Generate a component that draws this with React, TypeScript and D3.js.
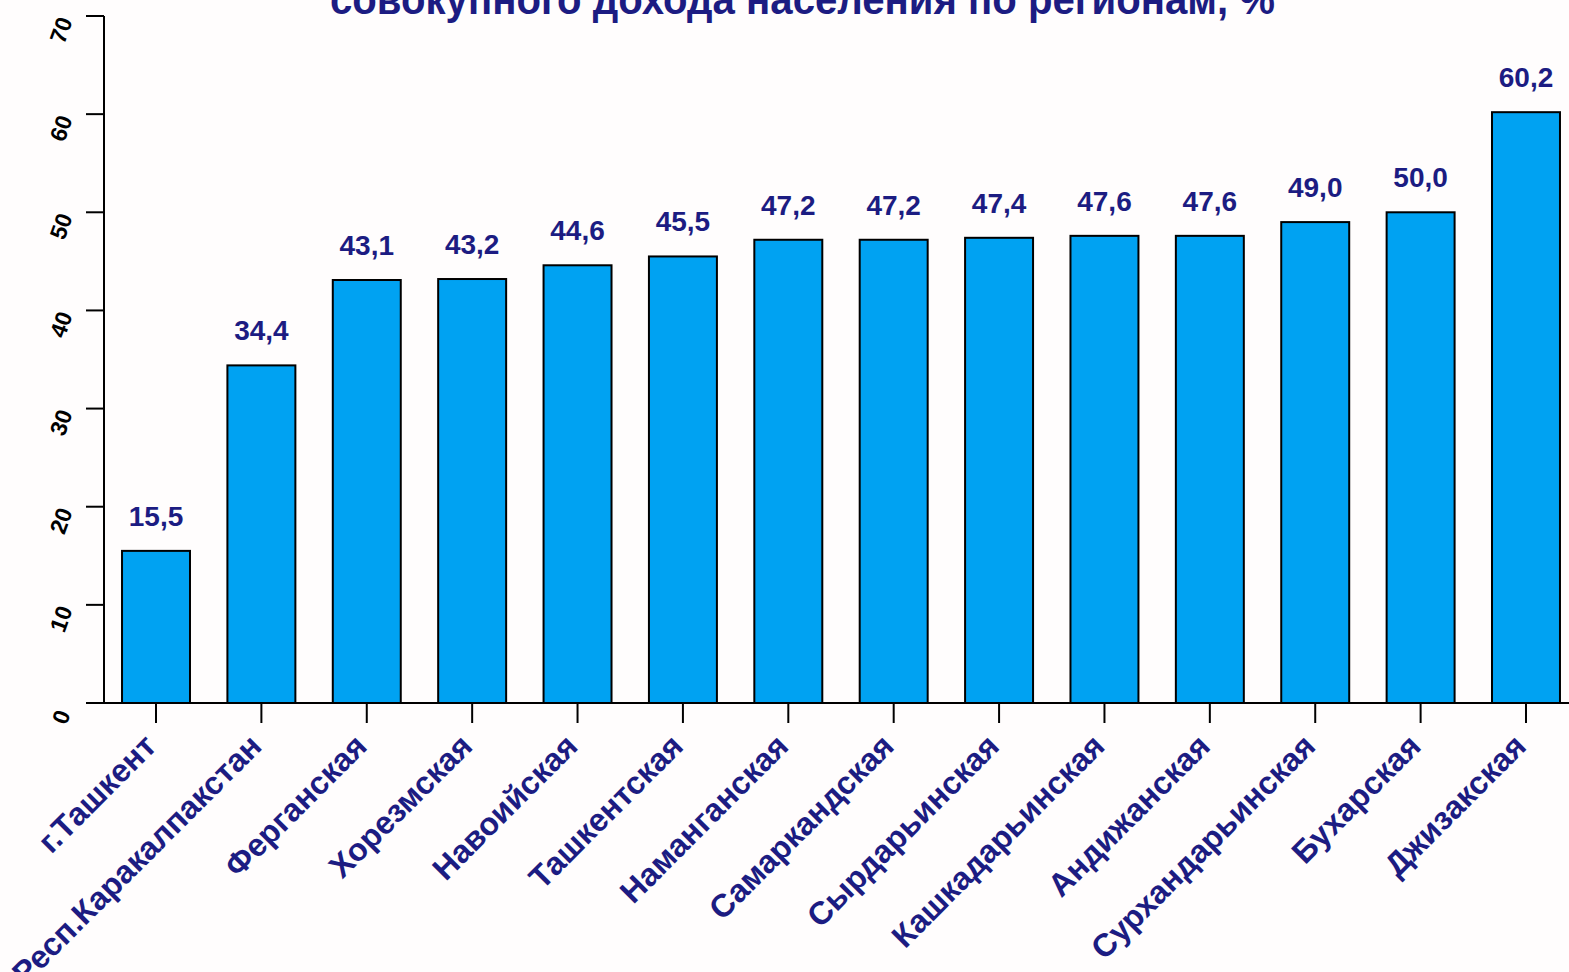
import * as d3 from "d3";

const regions = [
  "г.Ташкент",
  "Респ.Каракалпакстан",
  "Ферганская",
  "Хорезмская",
  "Навоийская",
  "Ташкентская",
  "Наманганская",
  "Самаркандская",
  "Сырдарьинская",
  "Кашкадарьинская",
  "Андижанская",
  "Сурхандарьинская",
  "Бухарская",
  "Джизакская",
];

const shares = [15.5, 34.4, 43.1, 43.2, 44.6, 45.5, 47.2, 47.2, 47.4, 47.6, 47.6, 49.0, 50.0, 60.2];

const yTicks = [0, 10, 20, 30, 40, 50, 60, 70];

const titleText = "совокупного дохода населения по регионам,  %";

const W = 1569;
const H = 972;
const BAR = "#00a2f2";
const NAVY = "#1c1c82";

export default function App() {
  const x = d3
    .scaleBand<string>()
    .domain(regions)
    .range([104, 1578])
    .paddingInner(0.355)
    .paddingOuter(0.171);

  const y = d3.scaleLinear().domain([0, 70]).range([703, 16]);

  const fmt = (v: number) => v.toFixed(1).replace(".", ",");

  return (
    <svg
      width={W}
      height={H}
      style={{ position: "absolute", left: 0, top: 0, display: "block", background: "#fffdfd" }}
      fontFamily="'Liberation Sans', Arial, sans-serif"
    >
      {/* title, cut off at the top like the source */}
      <text
        x={330}
        y={14}
        fontSize={42}
        fontWeight="bold"
        fill={NAVY}
        textLength={945}
        lengthAdjust="spacingAndGlyphs"
      >
        {titleText}
      </text>

      {/* bars */}
      {regions.map((r, i) => (
        <rect
          key={r}
          x={x(r)}
          y={y(shares[i])}
          width={x.bandwidth()}
          height={y(0) - y(shares[i])}
          fill={BAR}
          stroke="#000"
          strokeWidth={2}
        />
      ))}

      {/* value labels */}
      {regions.map((r, i) => (
        <text
          key={r + "-v"}
          x={(x(r) ?? 0) + x.bandwidth() / 2}
          y={y(shares[i]) - 25}
          textAnchor="middle"
          fontSize={28}
          fontWeight="bold"
          fill={NAVY}
        >
          {fmt(shares[i])}
        </text>
      ))}

      {/* y axis */}
      <line x1={104} x2={104} y1={y(70)} y2={y(0)} stroke="#000" strokeWidth={2} />
      {yTicks.map((t) => (
        <g key={t}>
          <line x1={86} x2={104} y1={y(t)} y2={y(t)} stroke="#000" strokeWidth={2} />
          <text
            transform={`translate(61,${y(t) + 14}) rotate(-70)`}
            textAnchor="middle"
            dy="0.35em"
            fontSize={23}
            fontWeight="bold"
            fill="#000"
          >
            {t}
          </text>
        </g>
      ))}

      {/* x axis */}
      <line x1={86} x2={W} y1={y(0)} y2={y(0)} stroke="#000" strokeWidth={2} />
      {regions.map((r) => {
        const cx = (x(r) ?? 0) + x.bandwidth() / 2;
        return (
          <g key={r + "-t"}>
            <line x1={cx} x2={cx} y1={y(0)} y2={y(0) + 20} stroke="#000" strokeWidth={2} />
            <text
              transform={`translate(${cx + 2},${748}) rotate(-45)`}
              textAnchor="end"
              fontSize={32}
              fontWeight="bold"
              fill={NAVY}
            >
              {r}
            </text>
          </g>
        );
      })}
    </svg>
  );
}
